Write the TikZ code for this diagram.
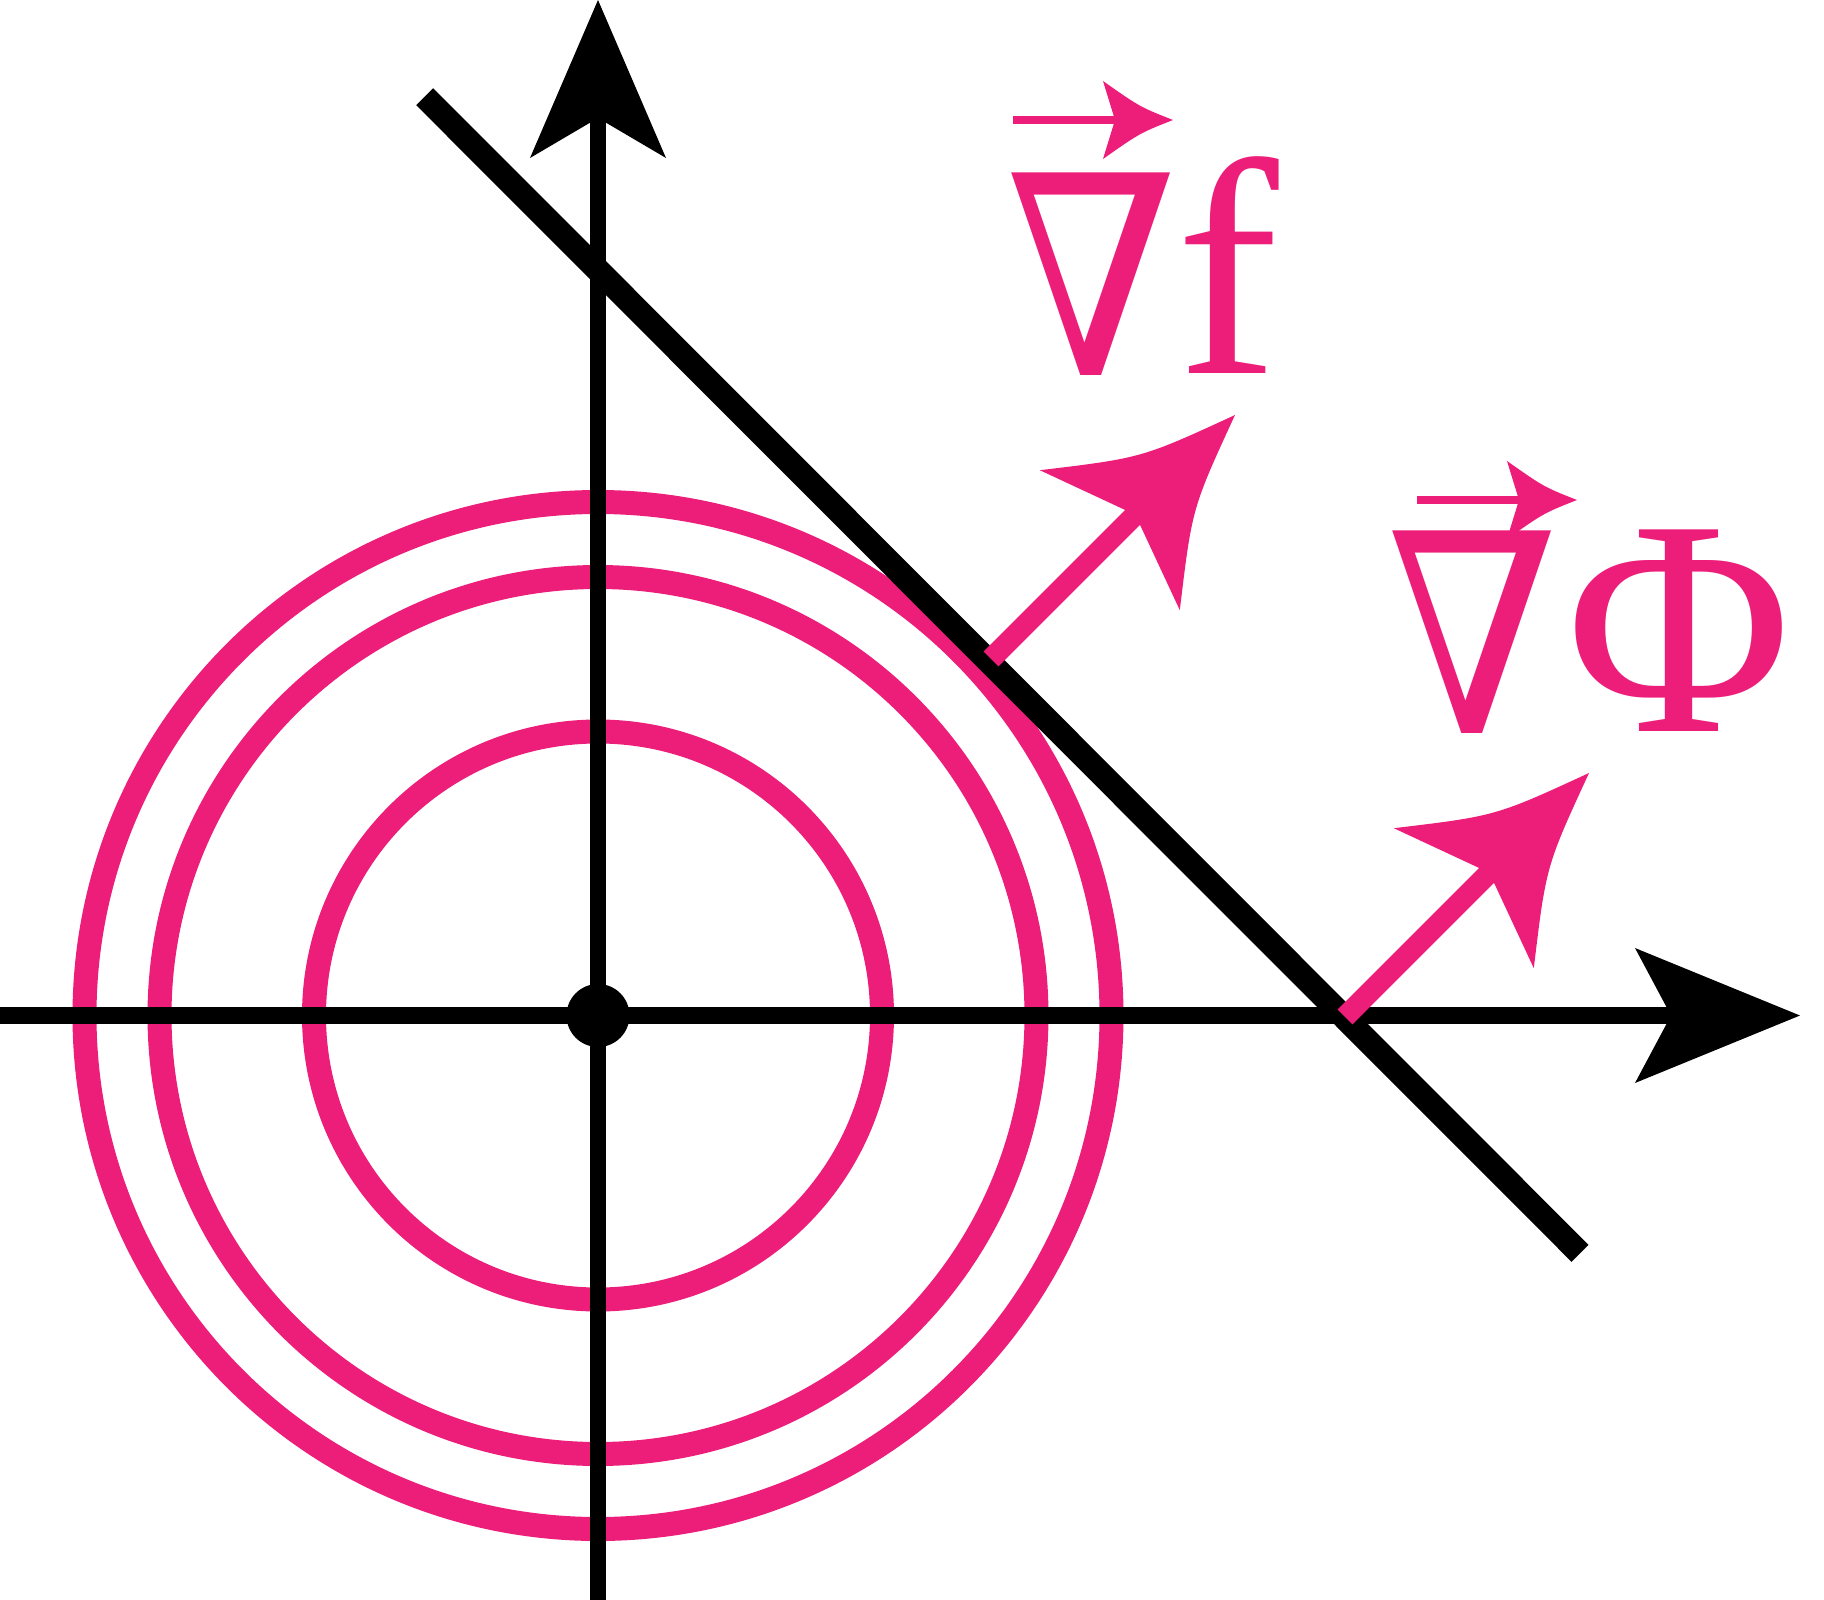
\documentclass[tikz,border=0pt]{standalone}
\usepackage{fontspec}
\setmainfont{Liberation Serif}
\newfontfamily\nablafont{DejaVu Serif}
\definecolor{pinkc}{RGB}{237,30,121}
\newcommand{\mynabla}{\scalebox{0.89}[1]{∇}}
\tikzset{
  axisline/.style={line width=16.5pt, black},
  diagline/.style={line width=24pt, black},
  level/.style={line width=24pt, pinkc},
  gradshaft/.style={line width=21pt, pinkc},
  gradhead/.style={fill=pinkc, draw=none},
  tiphead/.style={fill=black, draw=none},
  lbl/.style={text=pinkc, inner sep=0pt, anchor=base, font=\fontsize{308}{308}\selectfont},
  nlbl/.style={text=pinkc, inner sep=0pt, anchor=base, font=\nablafont\fontsize{278}{278}\selectfont},
  vecbar/.style={line width=8pt, pinkc},
}
\begin{document}
\begin{tikzpicture}[x=1pt,y=-1pt]
\useasboundingbox (0,0) rectangle (1824,1600);
% centre
\coordinate (O) at (598,1015.5);
% level circles
\draw[level] (O) circle (284);
\draw[level] (O) circle (438.5);
\draw[level] (O) circle (513.5);
% axes
\coordinate (ybot) at (598,1600);
\coordinate (ynotch) at (598,118);
\coordinate (ytip) at (598,0);
\coordinate (xleft) at (0,1015.5);
\coordinate (xnotch) at (1671,1015.5);
\coordinate (xtip) at (1800,1015.5);
\draw[axisline] (ybot) -- (ynotch);
\draw[axisline] (xleft) -- (xnotch);
\fill[tiphead] (ytip) -- (666,158) -- (ynotch) -- (530,158) -- cycle;
\fill[tiphead] (xtip) -- (1635,1083) -- (xnotch) -- (1635,948) -- cycle;
\fill (O) circle (31.5);
% constraint line
\coordinate (d1) at (424.7,96.7);
\coordinate (d2) at (1580,1253.3);
\draw[diagline] (d1) -- (d2);
% gradient arrows
\foreach \dx/\dy/\nm in {0/0/a, 354/358/b}{
  \begin{scope}[shift={(\dx,\dy)}]
    \coordinate (\nm S) at (991,659);
    \coordinate (\nm E) at (1139.5,510.5);
    \coordinate (\nm T) at (1235,415);
    \coordinate (\nm L) at (1039.8,470.2);
    \coordinate (\nm R) at (1179.8,610.2);
    \coordinate (\nm N) at (1135.3,514.7);
    \draw[gradshaft] (\nm S) -- (\nm E);
    \fill[gradhead] (\nm T) .. controls (1141.8,458.0) .. (\nm L) -- (\nm N) -- (\nm R) .. controls (1192.0,508.2) .. (\nm T) -- cycle;
  \end{scope}
}
% labels
\node[nlbl] (nab1) at (1092,375) {\mynabla};
\node[lbl] (f) at (1228,373) {f};
\node[nlbl] (nab2) at (1473,733) {\mynabla};
\node[lbl] (Phi) at (1679,731) {Φ};
% vector arrows over the nablas
\foreach \tx/\ty/\lx/\nm in {1173/120/1013/v1, 1577/500/1417/v2}{
  \begin{scope}[shift={(\tx,\ty)}]
    \coordinate (\nm T) at (0,0);
    \coordinate (\nm S) at (\lx-\tx,0);
    \coordinate (\nm E) at (-55,0);
    \draw[vecbar] (\nm S) -- (\nm E);
    \fill[pinkc] (\nm T) .. controls (-33,-13) .. (-70,-39) -- (-58,0) -- (-70,39) .. controls (-33,13) .. (\nm T) -- cycle;
  \end{scope}
}
\end{tikzpicture}
\end{document}
